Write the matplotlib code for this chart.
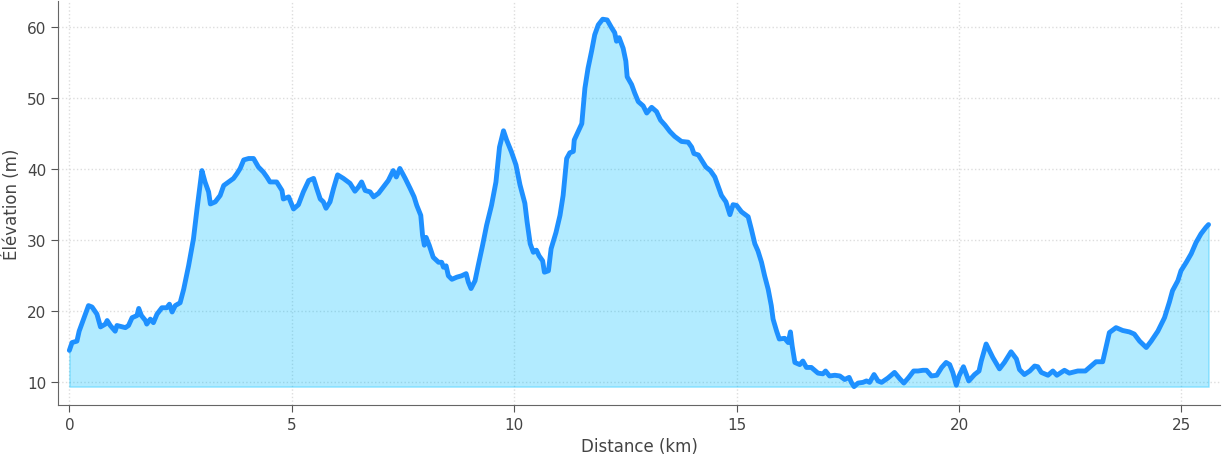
import matplotlib
matplotlib.use("Agg")
import matplotlib.pyplot as plt

# profile (km, m)
distance_km = [
    0.00, 0.06, 0.17, 0.22, 0.32, 0.43, 0.51, 0.62, 0.70, 0.81, 0.85, 0.92, 1.03, 1.07,
    1.26, 1.33, 1.41, 1.52, 1.56, 1.62, 1.71, 1.74, 1.82, 1.89, 1.97, 2.08, 2.19, 2.25,
    2.31, 2.38, 2.49, 2.57, 2.68, 2.79, 2.87, 2.98, 3.05, 3.13, 3.17, 3.28, 3.39, 3.47,
    3.58, 3.69, 3.77, 3.84, 3.92, 4.03, 4.14, 4.25, 4.36, 4.44, 4.51, 4.66, 4.78, 4.81,
    4.93, 5.04, 5.15, 5.26, 5.38, 5.49, 5.56, 5.64, 5.71, 5.77, 5.86, 5.94, 6.03, 6.16,
    6.31, 6.42, 6.50, 6.57, 6.65, 6.76, 6.84, 6.95, 7.06, 7.17, 7.28, 7.35, 7.43, 7.55,
    7.66, 7.75, 7.81, 7.90, 7.94, 7.98, 8.02, 8.09, 8.18, 8.30, 8.37, 8.41, 8.47, 8.52,
    8.60, 8.71, 8.82, 8.92, 8.97, 9.03, 9.12, 9.19, 9.29, 9.38, 9.49, 9.59, 9.67, 9.76,
    9.83, 9.94, 10.04, 10.13, 10.24, 10.29, 10.36, 10.43, 10.50, 10.56, 10.64, 10.68,
    10.77, 10.83, 10.94, 11.03, 11.10, 11.18, 11.25, 11.33, 11.35, 11.44, 11.52, 11.59,
    11.66, 11.74, 11.81, 11.89, 11.99, 12.09, 12.19, 12.26, 12.30, 12.36, 12.45, 12.51,
    12.54, 12.64, 12.71, 12.79, 12.90, 12.98, 13.09, 13.20, 13.29, 13.39, 13.50, 13.61,
    13.76, 13.91, 13.99, 14.04, 14.14, 14.21, 14.31, 14.41, 14.51, 14.58, 14.66, 14.76,
    14.85, 14.92, 15.00, 15.11, 15.26, 15.33, 15.41, 15.48, 15.56, 15.63, 15.71, 15.78,
    15.82, 15.90, 15.96, 16.08, 16.16, 16.21, 16.25, 16.31, 16.42, 16.49, 16.57, 16.68,
    16.83, 16.94, 17.00, 17.09, 17.21, 17.32, 17.43, 17.53, 17.58, 17.64, 17.73, 17.84,
    17.92, 17.99, 18.09, 18.18, 18.26, 18.40, 18.55, 18.67, 18.76, 18.87, 18.98, 19.08,
    19.19, 19.27, 19.38, 19.50, 19.61, 19.71, 19.79, 19.86, 19.94, 20.00, 20.10, 20.22,
    20.35, 20.45, 20.50, 20.61, 20.76, 20.91, 21.02, 21.17, 21.29, 21.36, 21.47, 21.59,
    21.70, 21.77, 21.85, 22.00, 22.11, 22.20, 22.37, 22.48, 22.67, 22.84, 22.97, 23.08,
    23.23, 23.31, 23.38, 23.53, 23.68, 23.83, 23.94, 24.06, 24.21, 24.32, 24.47, 24.62,
    24.73, 24.80, 24.92, 24.99, 25.11, 25.22, 25.33, 25.44, 25.55, 25.61,
]
elevation_m = [
    14.5, 15.6, 15.8, 17.2, 18.9, 20.8, 20.6, 19.6, 17.8, 18.2, 18.7, 18.0, 17.2, 18.0,
    17.7, 18.0, 19.1, 19.4, 20.4, 19.4, 18.7, 18.2, 18.9, 18.4, 19.6, 20.5, 20.5, 21.0,
    19.9, 20.8, 21.2, 23.1, 26.4, 30.2, 34.4, 39.8, 38.2, 36.8, 35.1, 35.4, 36.3, 37.7,
    38.2, 38.7, 39.4, 40.1, 41.3, 41.5, 41.5, 40.3, 39.6, 38.9, 38.2, 38.2, 37.0, 35.8,
    36.1, 34.4, 35.0, 36.8, 38.4, 38.7, 37.3, 35.8, 35.4, 34.5, 35.4, 37.3, 39.2, 38.7,
    38.0, 36.9, 37.5, 38.2, 37.0, 36.8, 36.1, 36.6, 37.5, 38.4, 39.8, 38.9, 40.1, 38.7,
    37.3, 36.1, 34.9, 33.5, 30.7, 29.3, 30.4, 29.3, 27.6, 26.9, 26.9, 26.2, 26.4, 25.0,
    24.5, 24.8, 25.0, 25.3, 24.1, 23.2, 24.3, 26.4, 29.3, 32.1, 34.9, 38.2, 43.1, 45.4,
    44.1, 42.4, 40.6, 37.8, 35.2, 32.6, 29.5, 28.3, 28.6, 27.8, 27.1, 25.5,
    25.7, 28.8, 31.1, 33.5, 36.3, 41.5, 42.3, 42.5, 44.1, 45.3, 46.4, 51.4,
    54.2, 56.6, 58.9, 60.3, 61.1, 61.0, 59.9, 59.2, 58.0, 58.5, 57.0, 55.2,
    53.0, 51.9, 50.7, 49.5, 48.9, 47.9, 48.7, 48.1, 46.9, 46.2, 45.3, 44.6,
    43.9, 43.8, 43.1, 42.2, 42.0, 41.3, 40.3, 39.8, 38.9, 37.7, 36.3, 35.4,
    33.6, 35.0, 34.9, 34.0, 33.3, 31.6, 29.5, 28.5, 26.9, 25.0, 23.1, 20.8,
    18.9, 17.2, 16.1, 16.2, 15.6, 17.1, 15.1, 12.8, 12.5, 13.0, 12.1, 12.1,
    11.3, 11.2, 11.6, 10.9, 11.0, 10.9, 10.4, 10.7, 10.0, 9.4, 9.9, 10.0,
    10.2, 10.0, 11.1, 10.2, 10.0, 10.6, 11.4, 10.5, 9.9, 10.7, 11.6, 11.6,
    11.7, 11.7, 10.9, 11.0, 12.1, 12.8, 12.5, 11.4, 9.6, 10.9, 12.2, 10.2,
    11.1, 11.6, 13.0, 15.4, 13.5, 11.9, 12.8, 14.3, 13.3, 11.8, 11.1, 11.6,
    12.3, 12.2, 11.4, 11.0, 11.6, 11.0, 11.7, 11.3, 11.6, 11.6, 12.3, 12.9,
    12.9, 15.1, 17.0, 17.7, 17.3, 17.1, 16.8, 15.8, 14.9, 15.8, 17.2, 19.1,
    21.3, 22.9, 24.3, 25.7, 26.9, 28.1, 29.7, 30.9, 31.8, 32.2,
]

fig, ax = plt.subplots(figsize=(12.23, 4.6), dpi=100)
fig.subplots_adjust(left=0.0474, right=0.9975, top=0.996, bottom=0.1174)

base = min(elevation_m)
ax.fill_between(distance_km, elevation_m, base, color="deepskyblue", alpha=0.3, lw=1.2)
ax.plot(distance_km, elevation_m, color="dodgerblue", lw=3.5, solid_capstyle="round")

ax.margins(x=0.01)
ax.set_yticks([10, 20, 30, 40, 50, 60])
ax.set_xticks([0, 5, 10, 15, 20, 25])
ax.grid(True, linestyle=":", color="#dddddd", lw=1)
ax.set_axisbelow(True)

for side in ("top", "right"):
    ax.spines[side].set_visible(False)
for side in ("left", "bottom"):
    ax.spines[side].set_color("#666666")

ax.tick_params(colors="#555555", labelcolor="#444444", labelsize=11, length=5)
ax.set_xlabel("Distance (km)", fontsize=12, color="#444444")
ax.set_ylabel("Élévation (m)", fontsize=12, color="#444444", labelpad=4)

plt.savefig("out.png", dpi=100)
